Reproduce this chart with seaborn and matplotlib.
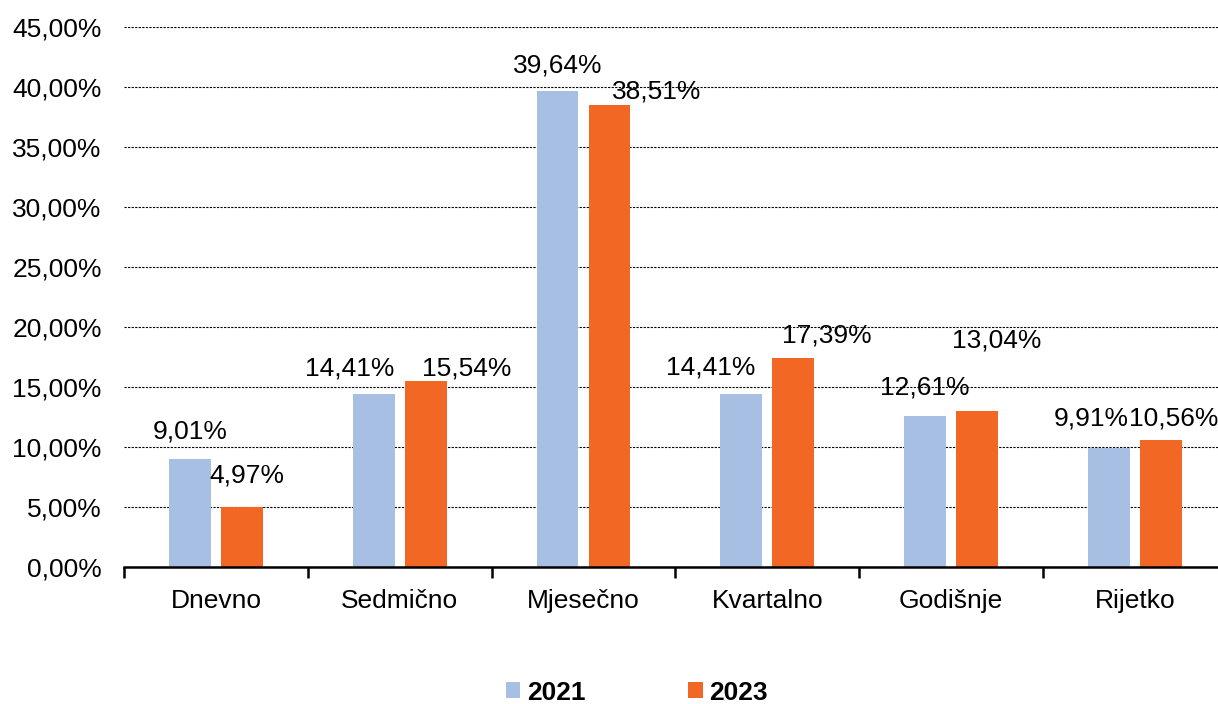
import matplotlib
matplotlib.use("Agg")
import matplotlib.pyplot as plt
import seaborn as sns
import pandas as pd
from matplotlib.ticker import FuncFormatter, FixedLocator
from matplotlib.patches import Patch

categories = ["Dnevno", "Sedmično", "Mjesečno", "Kvartalno", "Godišnje", "Rijetko"]
years = ["2021", "2023"]
values_2021 = [9.01, 14.41, 39.64, 14.41, 12.61, 9.91]
values_2023 = [4.97, 15.54, 38.51, 17.39, 13.04, 10.56]

# label offsets (pixels) relative to bar top-center, mimicking the reference placement
off_2021 = [(0, 27), (-24, 26), (0, 26), (-31, 27), (0, 28), (-18, 30)]
off_2023 = [(5, 32), (41, 12), (47, 13), (34, 23), (20, 70), (13, 22)]

colors = {"2021": "#A6BFE3", "2023": "#F36724"}

df = pd.DataFrame({
    "cat": categories * 2,
    "year": [years[0]] * len(categories) + [years[1]] * len(categories),
    "val": values_2021 + values_2023,
})

sns.set_theme(style="white")
plt.rcParams["font.family"] = ["Liberation Sans", "DejaVu Sans"]
plt.rcParams["text.color"] = "black"
FS = 19

fig = plt.figure(figsize=(12.18, 7.04), dpi=100)
ax = fig.add_axes([124 / 1218, 1 - 567 / 704, 1 - 124 / 1218, 540 / 704])

sns.barplot(data=df, x="cat", y="val", hue="year", palette=colors,
            width=0.565, gap=0.194, ax=ax, legend=False, saturation=1,
            edgecolor="none")

ax.set_xlim(-0.5, -0.5 + 1094 / 183.8)
ax.set_ylim(0, 45)
ax.set_yticks(range(0, 46, 5))
ax.yaxis.set_major_formatter(FuncFormatter(lambda v, p: f"{v:.2f}".replace(".", ",") + "%"))
ax.grid(axis="y", color="black", linestyle=(0, (2, 1.2)), linewidth=0.8)
ax.set_axisbelow(True)
for s in ["top", "right", "left"]:
    ax.spines[s].set_visible(False)
ax.spines["bottom"].set_color("black")
ax.spines["bottom"].set_linewidth(1.8)
ax.set_xlabel("")
ax.set_ylabel("")
ax.tick_params(axis="y", length=0, pad=16, labelsize=FS, colors="black")
ax.tick_params(axis="x", which="major", length=0, pad=16, labelsize=FS, colors="black")
ax.xaxis.set_minor_locator(FixedLocator([-0.5, 0.5, 1.5, 2.5, 3.5, 4.5]))
ax.tick_params(axis="x", which="minor", length=8, width=1.8, color="black", bottom=True)

def fmt(v):
    return f"{v:.2f}".replace(".", ",") + "%"

for cont, vals, offs in zip(ax.containers, [values_2021, values_2023], [off_2021, off_2023]):
    for bar, v, (dx, dy) in zip(cont, vals, offs):
        ax.annotate(fmt(v), (bar.get_x() + bar.get_width() / 2, bar.get_height()),
                    xytext=(dx, dy), textcoords="offset pixels",
                    ha="center", va="center", fontsize=FS, color="black")

handles = [Patch(facecolor=colors[y], edgecolor="none", label=y) for y in years]
fig.legend(handles=handles, loc="center", bbox_to_anchor=(0.523, 0.016), ncol=2,
           frameon=False, prop={"size": FS, "weight": "bold"}, labelcolor="black",
           handlelength=0.55, handleheight=0.55, handletextpad=0.25,
           columnspacing=3.9)

fig.savefig("out.png", dpi=100)
